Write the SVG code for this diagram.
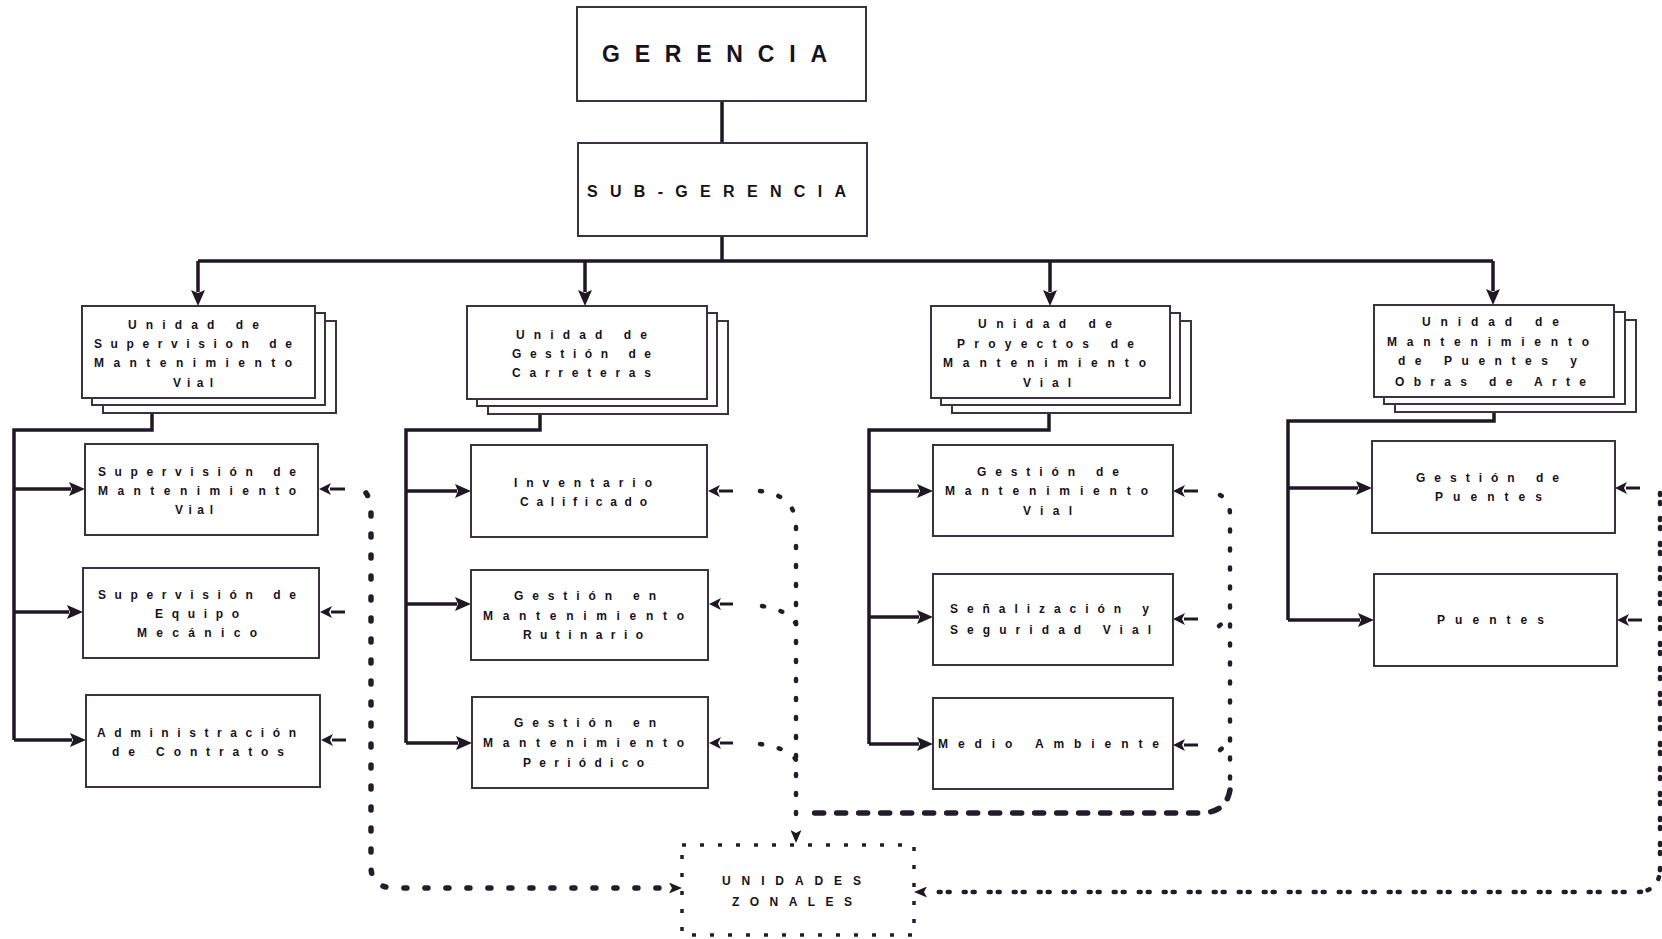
<svg xmlns="http://www.w3.org/2000/svg" width="1662" height="939" viewBox="0 0 1662 939">
<style>
.bg{fill:#ffffff}
.box{fill:#ffffff;stroke:#3a3240;stroke-width:2}
.zb{fill:#ffffff;stroke:#231c28;stroke-width:3.5;stroke-dasharray:4 14}
.t{font-family:"Liberation Sans",Arial,sans-serif;font-weight:bold;font-size:12px;fill:#17121b}
.big{font-family:"Liberation Sans",Arial,sans-serif;font-weight:bold;fill:#17121b}
.conn{fill:none;stroke:#1f1824;stroke-width:3.5}
.sm{fill:none;stroke:#1f1824;stroke-width:3}
.d1{fill:none;stroke:#231c2a;stroke-width:5.5;stroke-linecap:round;stroke-dasharray:3 18}
.d2{fill:none;stroke:#231c2a;stroke-width:4.5;stroke-linecap:round;stroke-dasharray:2 17}
.d3{fill:none;stroke:#231c2a;stroke-width:5.5;stroke-linecap:round;stroke-dasharray:9 13}
.d4{fill:none;stroke:#231c2a;stroke-width:4.5;stroke-linecap:round;stroke-dasharray:2 7 2 14}
</style>
<defs>
<marker id="ah" viewBox="0 0 16 14" refX="2" refY="7" markerWidth="16" markerHeight="14" orient="auto" markerUnits="userSpaceOnUse"><path d="M0,0 L16,7 L0,14 L3,7 z" fill="#1f1824"/></marker>
<marker id="as" viewBox="0 0 12 12" refX="1" refY="6" markerWidth="12" markerHeight="12" orient="auto" markerUnits="userSpaceOnUse"><path d="M0,0 L12,6 L0,12 L3,6 z" fill="#1f1824"/></marker>
<marker id="am" viewBox="0 0 13 11" refX="1" refY="5.5" markerWidth="13" markerHeight="11" orient="auto" markerUnits="userSpaceOnUse"><path d="M0,0 L13,5.5 L0,11 L3,5.5 z" fill="#1f1824"/></marker>
</defs>
<rect class="bg" x="0" y="0" width="1662" height="939"/>

<g id="connectors">
<path class="conn" d="M722,101 V143"/>
<path class="conn" d="M722,236 V261"/>
<path class="conn" d="M198,261 H1493"/>
<path class="conn" d="M198,261 V292" marker-end="url(#ah)"/>
<path class="conn" d="M585,261 V292" marker-end="url(#ah)"/>
<path class="conn" d="M1050,261 V292" marker-end="url(#ah)"/>
<path class="conn" d="M1493,261 V291" marker-end="url(#ah)"/>

<path class="conn" d="M200,397 H152 V430 H14 V740"/>
<path class="conn" d="M14,489 H71" marker-end="url(#ah)"/>
<path class="conn" d="M14,612 H69" marker-end="url(#ah)"/>
<path class="conn" d="M14,740 H72" marker-end="url(#ah)"/>

<path class="conn" d="M587,399 H540 V430 H406 V743"/>
<path class="conn" d="M406,491 H457" marker-end="url(#ah)"/>
<path class="conn" d="M406,604 H457" marker-end="url(#ah)"/>
<path class="conn" d="M406,743 H458" marker-end="url(#ah)"/>

<path class="conn" d="M1049,398 V430 H869 V744"/>
<path class="conn" d="M869,491 H919" marker-end="url(#ah)"/>
<path class="conn" d="M869,617 H919" marker-end="url(#ah)"/>
<path class="conn" d="M869,744 H919" marker-end="url(#ah)"/>

<path class="conn" d="M1494,397 V421 H1288 V620"/>
<path class="conn" d="M1288,488 H1358" marker-end="url(#ah)"/>
<path class="conn" d="M1288,620 H1360" marker-end="url(#ah)"/>

<path class="sm" d="M345,489 H330" marker-end="url(#as)"/>
<path class="sm" d="M345,612 H331" marker-end="url(#as)"/>
<path class="sm" d="M346,740 H332" marker-end="url(#as)"/>
<path class="sm" d="M733,491 H719" marker-end="url(#as)"/>
<path class="sm" d="M733,604 H720" marker-end="url(#as)"/>
<path class="sm" d="M733,743 H720" marker-end="url(#as)"/>
<path class="sm" d="M1198,491 H1184" marker-end="url(#as)"/>
<path class="sm" d="M1198,619 H1184" marker-end="url(#as)"/>
<path class="sm" d="M1198,745 H1184" marker-end="url(#as)"/>
<path class="sm" d="M1640,488 H1626" marker-end="url(#as)"/>
<path class="sm" d="M1642,620 H1628" marker-end="url(#as)"/>

<path class="d1" d="M366,493 Q371,500 371,512 L371,868 Q372,888 395,888 L670,888" marker-end="url(#am)"/>

<path class="d2" d="M760,491 Q795,495 796,525 L796,831" marker-end="url(#am)"/>
<path class="d2" d="M762,606 Q788,610 796,624"/>
<path class="d2" d="M760,744 Q788,748 796,760"/>

<path class="d2" d="M1220,495 Q1230,500 1230,515 L1230,785"/>
<path class="d2" d="M1219,626 Q1226,620 1230,620"/>
<path class="d2" d="M1220,750 Q1226,745 1230,745"/>
<path class="d3" d="M1230,790 Q1226,813 1200,813 L806,813"/>

<path class="d4" d="M1660,493 L1660,868 Q1660,892 1636,892 L926,892" marker-end="url(#am)"/>
</g>

<g id="gerencia">
<rect class="box" x="577" y="7" width="289" height="94"/>
<text class="big" x="602" y="62" font-size="23" textLength="225" lengthAdjust="spacing">GERENCIA</text>
</g>

<g id="subgerencia">
<rect class="box" x="578" y="143" width="289" height="93"/>
<text class="big" x="587" y="197" font-size="16" textLength="259" lengthAdjust="spacing">SUB-GERENCIA</text>
</g>

<g id="unidad-supervision">
<rect class="box" x="103" y="321" width="233" height="92"/>
<rect class="box" x="92" y="313" width="233" height="92"/>
<rect class="box" x="82" y="306" width="233" height="92"/>
<text class="t" x="128" y="329" textLength="131" lengthAdjust="spacing">Unidad de</text>
<text class="t" x="94" y="348" textLength="198" lengthAdjust="spacing">Supervision de</text>
<text class="t" x="94" y="367" textLength="198" lengthAdjust="spacing">Mantenimiento</text>
<text class="t" x="173" y="387" textLength="40" lengthAdjust="spacing">Vial</text>
</g>

<g id="sup-mant-vial">
<rect class="box" x="85" y="444" width="233" height="91"/>
<text class="t" x="98" y="476" textLength="198" lengthAdjust="spacing">Supervisión de</text>
<text class="t" x="98" y="495" textLength="198" lengthAdjust="spacing">Mantenimiento</text>
<text class="t" x="175" y="514" textLength="38" lengthAdjust="spacing">Vial</text>
</g>

<g id="sup-equipo">
<rect class="box" x="83" y="568" width="236" height="90"/>
<text class="t" x="98" y="599" textLength="198" lengthAdjust="spacing">Supervisión de</text>
<text class="t" x="155" y="618" textLength="84" lengthAdjust="spacing">Equipo</text>
<text class="t" x="137" y="637" textLength="120" lengthAdjust="spacing">Mecánico</text>
</g>

<g id="admin-contratos">
<rect class="box" x="86" y="695" width="234" height="92"/>
<text class="t" x="97" y="737" textLength="199" lengthAdjust="spacing">Administración</text>
<text class="t" x="112" y="756" textLength="172" lengthAdjust="spacing">de Contratos</text>
</g>

<g id="unidad-gestion-carreteras">
<rect class="box" x="488" y="321" width="240" height="93"/>
<rect class="box" x="477" y="313" width="240" height="93"/>
<rect class="box" x="467" y="306" width="240" height="93"/>
<text class="t" x="516" y="339" textLength="131" lengthAdjust="spacing">Unidad de</text>
<text class="t" x="512" y="358" textLength="139" lengthAdjust="spacing">Gestión de</text>
<text class="t" x="512" y="377" textLength="139" lengthAdjust="spacing">Carreteras</text>
</g>

<g id="inventario">
<rect class="box" x="471" y="445" width="236" height="92"/>
<text class="t" x="514" y="487" textLength="138" lengthAdjust="spacing">Inventario</text>
<text class="t" x="520" y="506" textLength="127" lengthAdjust="spacing">Calificado</text>
</g>

<g id="gestion-rutinario">
<rect class="box" x="471" y="570" width="237" height="90"/>
<text class="t" x="514" y="600" textLength="142" lengthAdjust="spacing">Gestión en</text>
<text class="t" x="483" y="620" textLength="201" lengthAdjust="spacing">Mantenimiento</text>
<text class="t" x="523" y="639" textLength="120" lengthAdjust="spacing">Rutinario</text>
</g>

<g id="gestion-periodico">
<rect class="box" x="472" y="697" width="236" height="91"/>
<text class="t" x="514" y="727" textLength="142" lengthAdjust="spacing">Gestión en</text>
<text class="t" x="483" y="747" textLength="201" lengthAdjust="spacing">Mantenimiento</text>
<text class="t" x="523" y="767" textLength="121" lengthAdjust="spacing">Periódico</text>
</g>

<g id="unidad-proyectos">
<rect class="box" x="952" y="321" width="239" height="92"/>
<rect class="box" x="941" y="313" width="239" height="92"/>
<rect class="box" x="931" y="306" width="239" height="92"/>
<text class="t" x="978" y="328" textLength="134" lengthAdjust="spacing">Unidad de</text>
<text class="t" x="957" y="348" textLength="177" lengthAdjust="spacing">Proyectos de</text>
<text class="t" x="943" y="367" textLength="203" lengthAdjust="spacing">Mantenimiento</text>
<text class="t" x="1023" y="387" textLength="48" lengthAdjust="spacing">Vial</text>
</g>

<g id="gestion-mant-vial">
<rect class="box" x="933" y="445" width="240" height="91"/>
<text class="t" x="977" y="476" textLength="142" lengthAdjust="spacing">Gestión de</text>
<text class="t" x="945" y="495" textLength="203" lengthAdjust="spacing">Mantenimiento</text>
<text class="t" x="1023" y="515" textLength="49" lengthAdjust="spacing">Vial</text>
</g>

<g id="senalizacion">
<rect class="box" x="933" y="574" width="240" height="91"/>
<text class="t" x="950" y="613" textLength="199" lengthAdjust="spacing">Señalización y</text>
<text class="t" x="950" y="634" textLength="201" lengthAdjust="spacing">Seguridad Vial</text>
</g>

<g id="medio-ambiente">
<rect class="box" x="933" y="698" width="240" height="91"/>
<text class="t" x="938" y="748" textLength="221" lengthAdjust="spacing">Medio Ambiente</text>
</g>

<g id="unidad-puentes">
<rect class="box" x="1395" y="320" width="241" height="92"/>
<rect class="box" x="1384" y="312" width="241" height="92"/>
<rect class="box" x="1374" y="305" width="240" height="92"/>
<text class="t" x="1422" y="326" textLength="137" lengthAdjust="spacing">Unidad de</text>
<text class="t" x="1387" y="346" textLength="202" lengthAdjust="spacing">Mantenimiento</text>
<text class="t" x="1398" y="365" textLength="179" lengthAdjust="spacing">de Puentes y</text>
<text class="t" x="1395" y="386" textLength="191" lengthAdjust="spacing">Obras de Arte</text>
</g>

<g id="gestion-puentes">
<rect class="box" x="1372" y="441" width="243" height="92"/>
<text class="t" x="1416" y="482" textLength="143" lengthAdjust="spacing">Gestión de</text>
<text class="t" x="1435" y="501" textLength="107" lengthAdjust="spacing">Puentes</text>
</g>

<g id="puentes">
<rect class="box" x="1374" y="574" width="243" height="92"/>
<text class="t" x="1437" y="624" textLength="107" lengthAdjust="spacing">Puentes</text>
</g>

<g id="unidades-zonales">
<rect class="zb" x="682" y="845" width="232" height="90"/>
<text class="t" x="722" y="885" textLength="139" lengthAdjust="spacing">UNIDADES</text>
<text class="t" x="732" y="906" textLength="120" lengthAdjust="spacing">ZONALES</text>
</g>
</svg>
